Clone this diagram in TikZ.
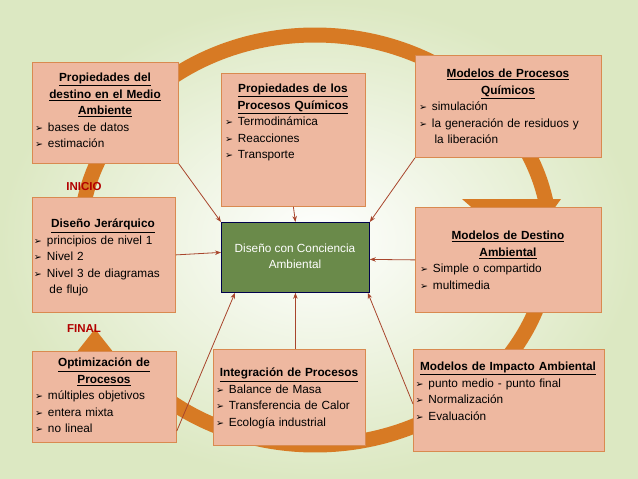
\documentclass[tikz,border=0pt]{standalone}
\usepackage{fontspec}
\setmainfont{Liberation Sans}
\newfontfamily\dejavu{DejaVu Sans}
\usetikzlibrary{arrows.meta}
\newcommand\arw{{\dejavu\fontsize{9.5}{10}\selectfont\char"27A2}\hspace{5pt}}
\newcommand\ttl[1]{\makebox[\linewidth][c]{\underline{\textbf{#1}}}}
\definecolor{boxfill}{HTML}{EEB8A0}
\definecolor{boxdraw}{HTML}{D98A50}
\definecolor{ring}{HTML}{D77A24}
\definecolor{link}{HTML}{A8452C}
\definecolor{bgout}{HTML}{DCE8C2}
\definecolor{ctr}{HTML}{6A8A4A}
\tikzset{
 box/.style={draw=boxdraw, fill=boxfill, line width=0.8pt, anchor=north west, inner sep=0pt},
 txt/.style={anchor=north, align=left, font=\fontsize{11.8}{16.5}\selectfont, inner sep=0pt},
 lnk/.style={draw=link, line width=0.8pt, -{Stealth[length=6pt,width=4.5pt]}},
 lab/.style={text=red!70!black, font=\fontsize{11.5}{12}\selectfont\bfseries}
}
\begin{document}
\begin{tikzpicture}[x=1pt,y=-1pt]
\useasboundingbox (0,0) rectangle (638,479);
\shade[inner color=white, outer color=bgout] (0,0) rectangle (638,479);
% ring
\draw[ring, line width=15pt] (315,240) ++(140:235 and 205) arc[start angle=140, end angle=-200, x radius=235, y radius=205];
\fill[ring] (462,199) -- (561,199) -- (523,252) -- cycle;
\fill[ring] (61,372) -- (129,372) -- (95,329) -- cycle;
% boxes
\node[box, minimum width=146, minimum height=101] (A) at (32,62) {};
\node[box, minimum width=144, minimum height=133] (B) at (221,73) {};
\node[box, minimum width=186, minimum height=102] (C) at (415,55) {};
\node[box, minimum width=143, minimum height=115] (D) at (32,197) {};
\node[box, minimum width=186, minimum height=105] (E) at (415,207) {};
\node[box, minimum width=144, minimum height=91] (F) at (32,351) {};
\node[box, minimum width=152, minimum height=96] (G) at (213,349) {};
\node[box, minimum width=191, minimum height=102] (H) at (413,349) {};
\node[draw=black!70!blue, fill=ctr, line width=0.8pt, anchor=north west, minimum width=148, minimum height=70] (Z) at (221,222) {};
\node[anchor=north, align=center, text=white, font=\fontsize{11.8}{16}\selectfont] (Zt) at (295,240) {Diseño con Conciencia\\Ambiental};
% texts
\node[txt, text width=140] (At) at (105,73) {\ttl{Propiedades del}\\\ttl{destino en el Medio}\\\ttl{Ambiente}\\ \arw bases de datos\\ \arw estimación};
\node[txt, text width=136] (Bt) at (293,84) {\ttl{Propiedades de los}\\\ttl{Procesos Químicos}\\ \arw Termodinámica\\ \arw Reacciones\\ \arw Transporte};
\node[txt, text width=178] (Ct) at (508,69) {\ttl{Modelos de Procesos}\\\ttl{Químicos}\\ \arw simulación\\ \arw la generación de residuos y\\\hspace*{15.5pt}la liberación};
\node[txt, text width=138] (Dt) at (103,219) {\ttl{Diseño Jerárquico}\\ \arw principios de nivel 1\\ \arw Nivel 2\\ \arw Nivel 3 de diagramas\\\hspace*{15.5pt}de flujo};
\node[txt, text width=176] (Et) at (508,231) {\ttl{Modelos de Destino}\\\ttl{Ambiental}\\ \arw Simple o compartido\\ \arw multimedia};
\node[txt, text width=138] (Ft) at (104,358) {\ttl{Optimización de}\\\ttl{Procesos}\\ \arw múltiples objetivos\\ \arw entera mixta\\ \arw no lineal};
\node[txt, text width=146] (Gt) at (289,368) {\ttl{Integración de Procesos}\\ \arw Balance de Masa\\ \arw Transferencia de Calor\\ \arw Ecología industrial};
\node[txt, text width=185] (Ht) at (508,362) {\ttl{Modelos de Impacto Ambiental}\\ \arw punto medio - punto final\\ \arw Normalización\\ \arw Evaluación};
% labels
\node[lab] (ini) at (84,187) {INICIO};
\node[lab] (fin) at (84,329) {FINAL};
% links
\draw[lnk] (A.south east) -- (Z.north west);
\draw[lnk] (B.south) -- (Z.north);
\draw[lnk] (C.south west) -- (Z.north east);
\draw[lnk] (D.east) -- ([yshift=5]Z.west);
\draw[lnk] (E.west) -- ([yshift=-2]Z.east);
\draw[lnk] ([yshift=-80]F.north east) -- ([xshift=14]Z.south west);
\draw[lnk] (G.north -| Z.south) -- (Z.south);
\draw[lnk] ([yshift=-55]H.north west) -- ([xshift=-2]Z.south east);
\end{tikzpicture}
\end{document}
